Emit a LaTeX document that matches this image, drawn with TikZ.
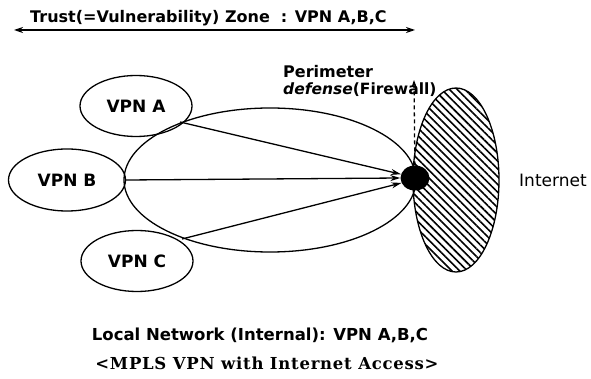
\documentclass[tikz,border=0pt]{standalone}
\usepackage{fontspec}
\setmainfont{DejaVu Sans}
\newfontfamily\capserif[LetterSpace=4.5]{DejaVu Serif}
\usetikzlibrary{shapes.geometric,patterns.meta,arrows.meta}

\begin{document}
\begin{tikzpicture}[x=1pt,y=-1pt]
\tikzset{vpnnode/.style={draw,line width=1.3pt,ellipse,minimum width=112pt,minimum height=61pt,inner sep=0pt,font=\bfseries\fontsize{17}{19}\selectfont}};
\tikzset{mainline/.style={line width=1.3pt,color=black}};
\tikzset{flowarrow/.style={line width=1.3pt,-{Stealth[length=10pt,width=6pt]}}};
\tikzset{lbl/.style={inner sep=0pt,font=\bfseries\fontsize{16}{18}\selectfont}};

\useasboundingbox (0,0) rectangle (591,379);

% trust zone
\node[lbl,anchor=west] (trust) at (30,18) {Trust(=Vulnerability) Zone\ \ : VPN A,B,C};
\coordinate (zl) at (14,30);
\coordinate (zr) at (415,30);
\draw [line width=1.3pt,{Stealth[length=9pt,width=6pt]}-{Stealth[length=9pt,width=6pt]}] (zl) -- (zr);

% internal network
\draw [mainline] (270,180) ellipse (146 and 72);
\node[vpnnode] (vpnA) at (136,106) {VPN A};
\node[vpnnode,minimum width=117pt,minimum height=62pt] (vpnB) at (67,180) {VPN B};
\node[vpnnode] (vpnC) at (137,261) {VPN C};

% internet
\draw [mainline,pattern={Lines[angle=-45,distance=5.5pt,line width=1.6pt]}] (456,180) ellipse (43 and 92);
\node[inner sep=0pt,anchor=west,font=\fontsize{17}{19}\selectfont] (inet) at (519,180) {Internet};

% firewall
\node[fill=black,ellipse,minimum width=29pt,minimum height=25pt,inner sep=0pt] (fw) at (415,178) {};
\coordinate (fwtop) at (414,80);
\draw [line width=1.3pt,dash pattern=on 4pt off 3pt,-{Stealth[length=7pt,width=5pt]}] (fw) -- (fwtop);
\node[lbl,anchor=west] (perim) at (283,72) {Perimeter};
\node[lbl,anchor=west,font=\bfseries\fontsize{15.5}{18}\selectfont] (defense) at (283,90) {\textit{defense}(Firewall)};

\coordinate (srcA) at (180,122);
\coordinate (srcC) at (182,239);
\draw [flowarrow] (srcA) -- (fw.165);
\draw [flowarrow] (vpnB.east) -- (fw.west);
\draw [flowarrow] (srcC) -- (fw.200);

% captions
\node[lbl,font=\bfseries\fontsize{16.5}{18}\selectfont] (local) at (260,335) {Local Network (Internal): VPN A,B,C};
\node[inner sep=0pt,font=\capserif\bfseries\fontsize{16.5}{18}\selectfont] (mpls) at (267,363) {<MPLS VPN with Internet Access>};
\end{tikzpicture}
\end{document}
